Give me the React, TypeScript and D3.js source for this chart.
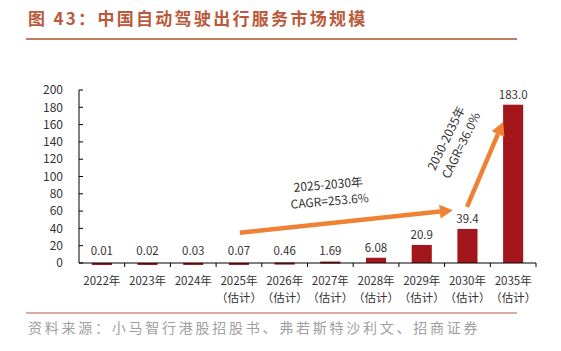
import React from "react";
import { scaleBand, scaleLinear } from "d3";

const categories = ["2022年", "2023年", "2024年", "2025年", "2026年", "2027年", "2028年", "2029年", "2030年", "2035年"];
const estimated = [false, false, false, true, true, true, true, true, true, true];
const values = [0.01, 0.02, 0.03, 0.07, 0.46, 1.69, 6.08, 20.9, 39.4, 183.0];
const valueLabels = ["0.01", "0.02", "0.03", "0.07", "0.46", "1.69", "6.08", "20.9", "39.4", "183.0"];
const yTicks = [0, 20, 40, 60, 80, 100, 120, 140, 160, 180, 200];

// arrows in (band position, value) units
const arrows = [
  { from: [3.52, 35], to: [8.18, 61] },
  { from: [8.49, 65], to: [9.28, 163] },
];
const notes = [
  { pos: 5.47, value: 81, angle: -5, lines: ["2025-2030年", "CAGR=253.6%"] },
  { pos: 8.2, value: 140, angle: -64, lines: ["2030-2035年", "CAGR=36.0%"] },
];

const W = 561;
const H = 351;
const left = 79;
const right = 536;
const top = 90;
const bottom = 263;
const font = "'Noto Sans CJK SC', 'Noto Sans', sans-serif";
const barColor = "#A3171C";
const arrowColor = "#EE8133";
const textColor = "#333";

export default function App() {
  const x = scaleBand<string>().domain(categories).range([left, right]).paddingInner(0.56).paddingOuter(0.28);
  const pos = scaleLinear().domain([0, categories.length]).range([left, right]);
  const y = scaleLinear().domain([0, 200]).range([bottom, top]);
  const step = (right - left) / categories.length;

  const arrowPath = (a: { from: number[]; to: number[] }) => {
    const x1 = pos(a.from[0]), y1 = y(a.from[1]);
    const x2 = pos(a.to[0]), y2 = y(a.to[1]);
    const ang = Math.atan2(y2 - y1, x2 - x1);
    const hl = 13, hw = 7;
    const bx = x2 - hl * Math.cos(ang), by = y2 - hl * Math.sin(ang);
    const nx = -Math.sin(ang), ny = Math.cos(ang);
    return {
      line: `M${x1},${y1}L${bx},${by}`,
      head: `M${x2},${y2}L${bx + nx * hw},${by + ny * hw}L${bx - nx * hw},${by - ny * hw}Z`,
    };
  };

  return (
    <svg width={W} height={H} style={{ position: "absolute", left: 0, top: 0, background: "#fff" }} fontFamily={font}>
      {/* title */}
      <text x={28} y={25} fontSize={17} fill="#BB5A3A" fontWeight={600} letterSpacing={2.3}>
        图 43：中国自动驾驶出行服务市场规模
      </text>
      <line x1={26} x2={517} y1={39} y2={39} stroke="#C57A5E" strokeWidth={2} />

      {/* y axis */}
      <line x1={left} x2={left} y1={top} y2={bottom} stroke="#000" strokeWidth={1} />
      {yTicks.map((t) => (
        <g key={t}>
          <line x1={left} x2={left + 4} y1={y(t)} y2={y(t)} stroke="#000" />
          <text x={63} y={y(t)} dy="0.35em" textAnchor="end" fontSize={12} fill={textColor}>
            {t}
          </text>
        </g>
      ))}

      {/* bars */}
      {categories.map((c, i) => (
        <g key={c}>
          <rect x={x(c)} y={y(values[i])} width={x.bandwidth()} height={Math.max(bottom - y(values[i]), 2)} fill={barColor} />
          <text
            x={(x(c) as number) + x.bandwidth() / 2}
            y={Math.min(y(values[i]), bottom - 2) - 6}
            textAnchor="middle"
            fontSize={11.5}
            fill={textColor}
          >
            {valueLabels[i]}
          </text>
        </g>
      ))}

      {/* x axis */}
      <line x1={left} x2={right} y1={bottom} y2={bottom} stroke="#000" />
      {categories.map((c, i) => (
        <line key={"t" + c} x1={left + step * (i + 1)} x2={left + step * (i + 1)} y1={bottom} y2={bottom + 4} stroke="#000" />
      ))}
      {categories.map((c, i) => (
        <g key={"l" + c}>
          <text x={(x(c) as number) + x.bandwidth() / 2} y={285} textAnchor="middle" fontSize={11.5} fill={textColor}>
            {c}
          </text>
          {estimated[i] && (
            <text x={(x(c) as number) + x.bandwidth() / 2} y={302} textAnchor="middle" fontSize={11.5} fill={textColor}>
              （估计）
            </text>
          )}
        </g>
      ))}

      {/* arrows */}
      {arrows.map((a, i) => {
        const p = arrowPath(a);
        return (
          <g key={"a" + i}>
            <path d={p.line} stroke={arrowColor} strokeWidth={4.5} fill="none" />
            <path d={p.head} fill={arrowColor} />
          </g>
        );
      })}
      {notes.map((n, i) => (
        <g key={"n" + i} transform={`translate(${pos(n.pos)},${y(n.value)}) rotate(${n.angle})`}>
          {n.lines.map((l, j) => (
            <text key={j} x={0} y={(j - 0.5) * 16.5} dy="0.35em" textAnchor="middle" fontSize={12} fill={textColor}>
              {l}
            </text>
          ))}
        </g>
      ))}

      {/* source */}
      <line x1={26} x2={517} y1={313} y2={313} stroke="#C99580" strokeWidth={1.5} />
      <text x={28} y={333} fontSize={14} fill="#A0A0A0" letterSpacing={2.75}>
        资料来源：小马智行港股招股书、弗若斯特沙利文、招商证券
      </text>
    </svg>
  );
}
